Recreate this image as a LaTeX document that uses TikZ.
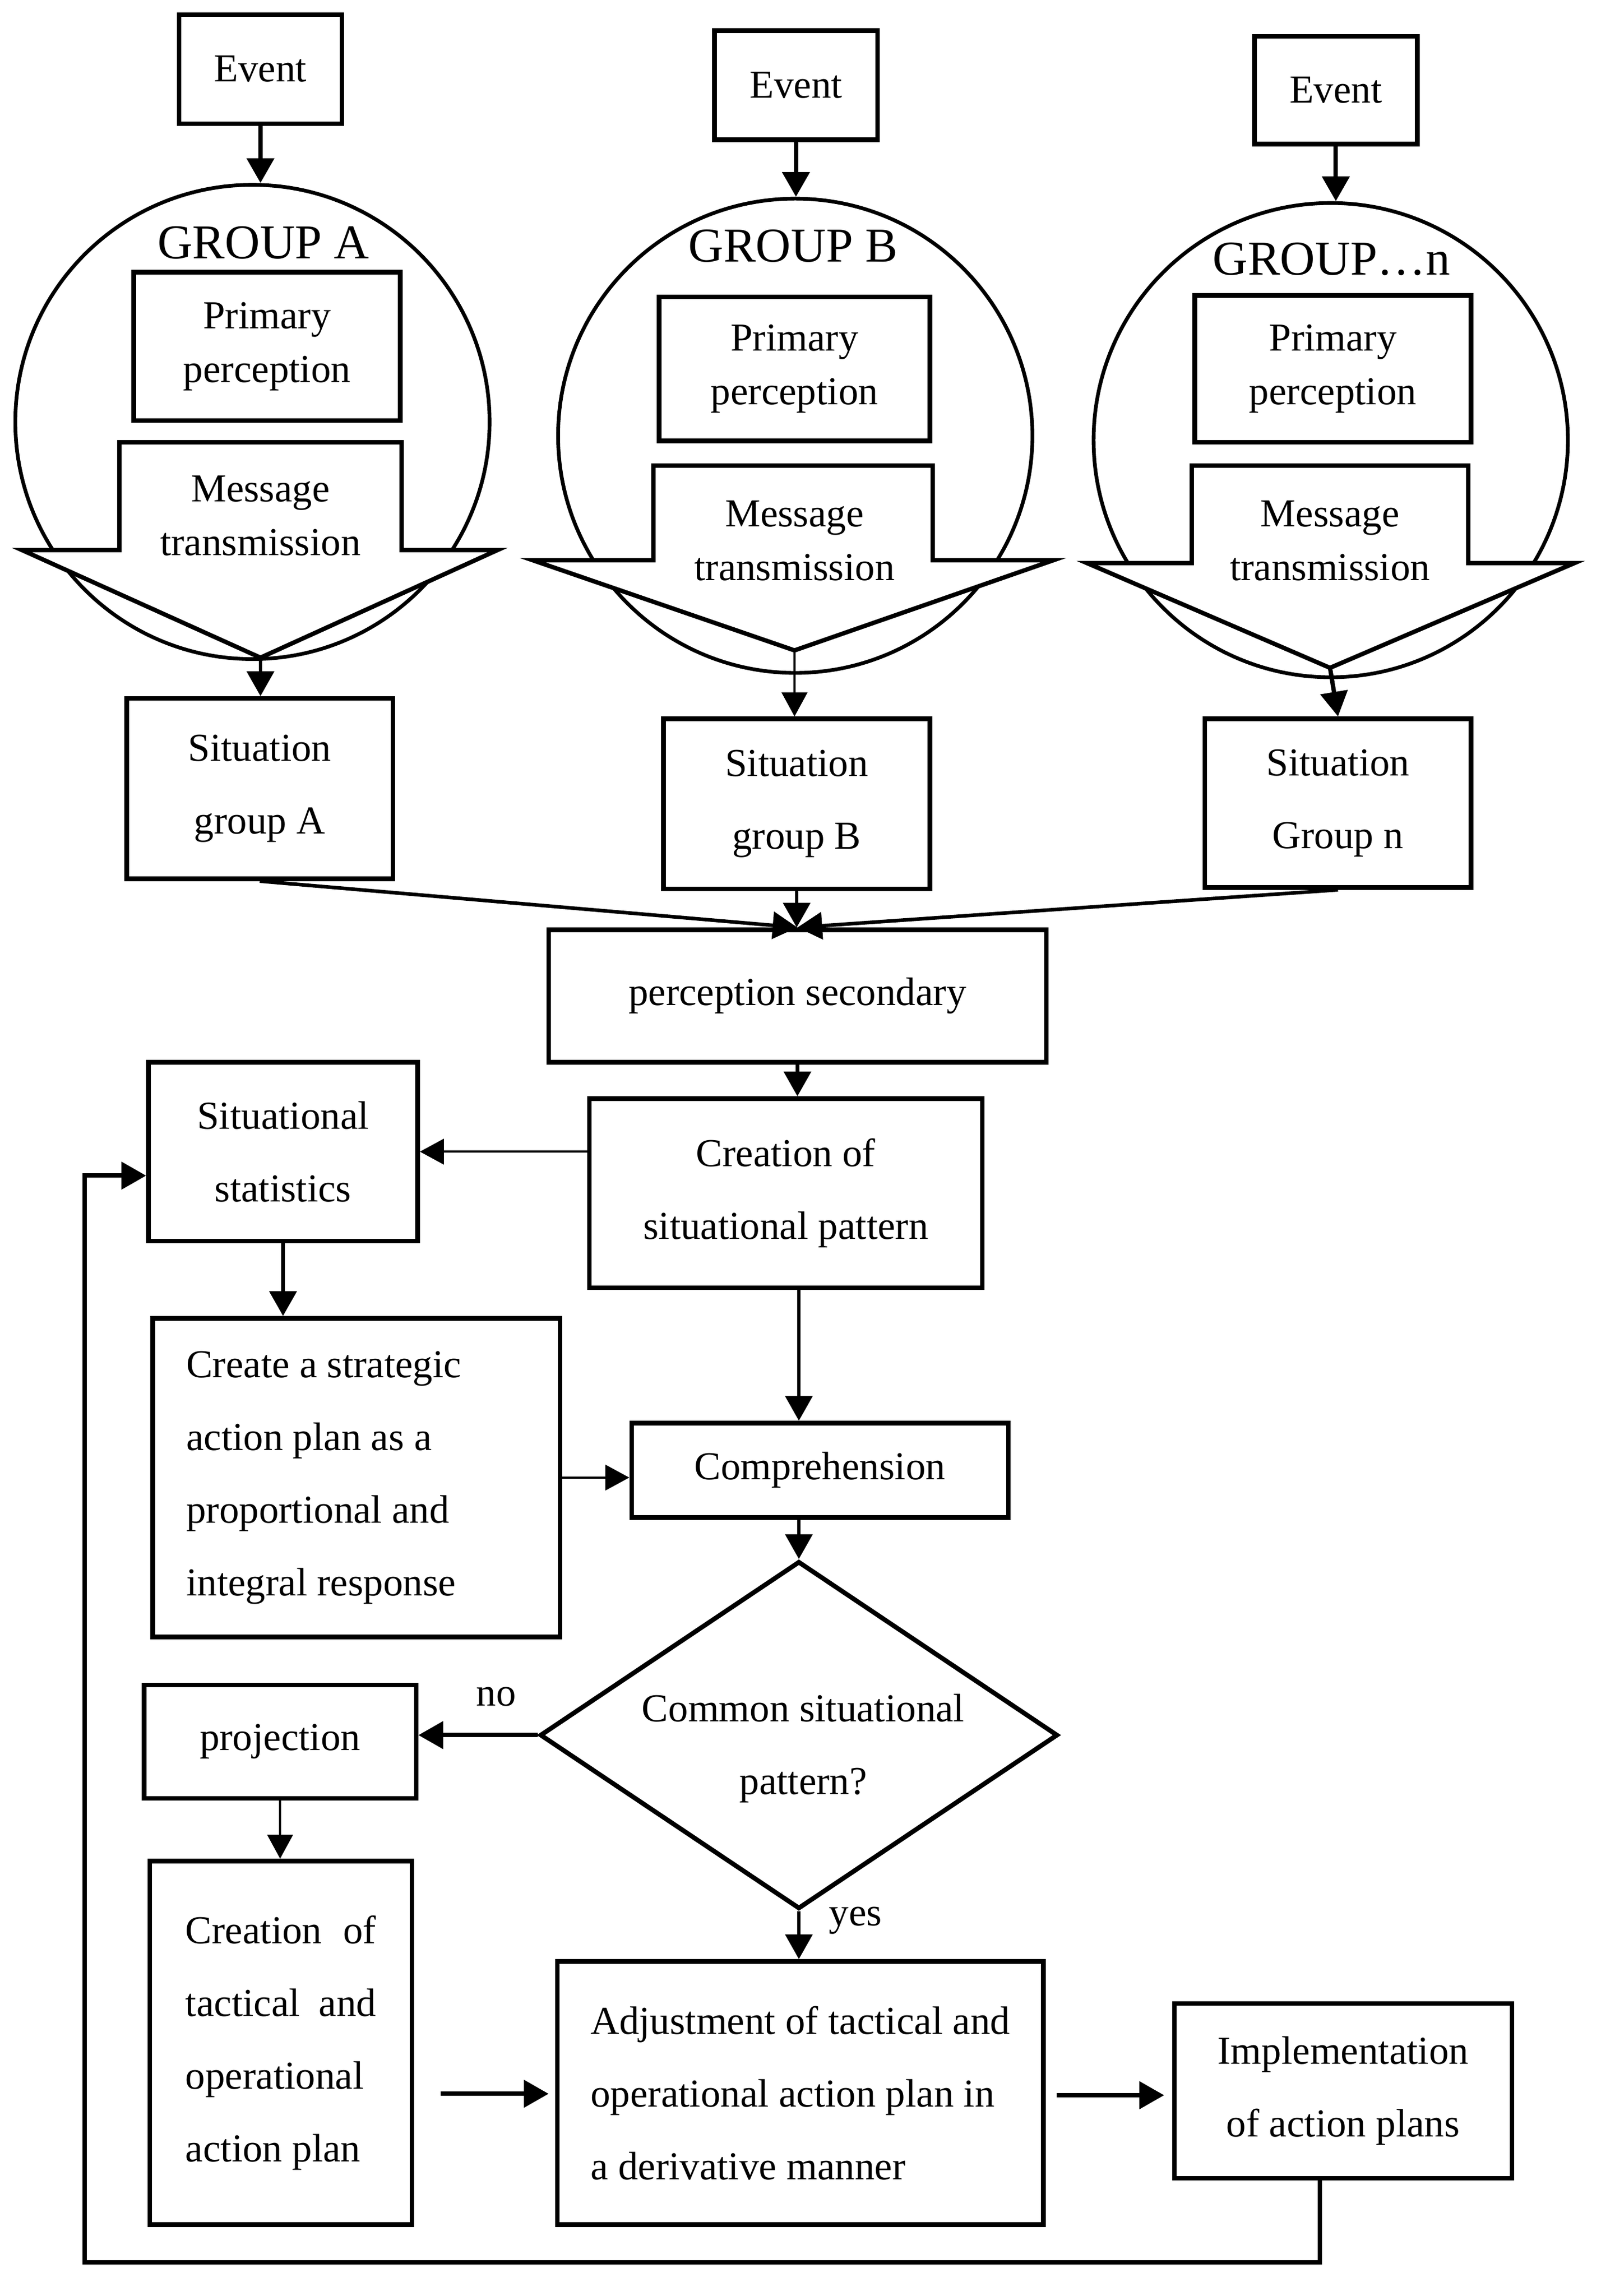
\documentclass[tikz,border=0pt]{standalone}
\usepackage{fontspec}
\setmainfont{Liberation Serif}
\usetikzlibrary{arrows.meta,shapes.geometric}
\begin{document}
\begin{tikzpicture}[x=0.02cm,y=-0.02cm,
  box/.style={draw,line width=1.8pt,inner sep=0pt,align=center,font=\fontsize{15.5}{28.45}\selectfont},
  tbox/.style={box,font=\fontsize{15.5}{21}\selectfont},
  grp/.style={draw,circle,line width=1.45pt,inner sep=0pt,minimum size=6.52cm},
  glab/.style={font=\fontsize{19}{20}\selectfont,inner sep=0pt},
  msg/.style={draw,line width=1.7pt,fill=white,line join=miter},
  mtext/.style={align=center,font=\fontsize{15.5}{21}\selectfont,inner sep=0pt},
  lab/.style={font=\fontsize{15.5}{17}\selectfont,inner sep=0pt},
  arr/.style={-{Triangle[length=0.34cm,width=0.37cm]},line width=1.4pt},
  bigarr/.style={-{Triangle[length=0.34cm,width=0.37cm]},line width=1.7pt},
  smallarr/.style={-{Triangle[length=0.33cm,width=0.35cm]},line width=0.85pt},
]
\fill[white] (0,0) rectangle (1100,1578);
\useasboundingbox (0,0) rectangle (1100,1578);

% events
\node[box,minimum width=2.24cm,minimum height=1.5cm] (evA) at (179,47.5) {Event};
\node[box,minimum width=2.24cm,minimum height=1.5cm] (evB) at (547,58.5) {Event};
\node[box,minimum width=2.24cm,minimum height=1.48cm] (evN) at (918,62) {Event};

% group circles
\node[grp] (cA) at (173.5,290) {};
\node[grp] (cB) at (546.5,299.5) {};
\node[grp] (cN) at (914.5,302.5) {};
\node[glab] (gA) at (181,167) {GROUP A};
\node[glab] (gB) at (545,169) {GROUP B};
\node[glab] (gN) at (915,178) {GROUP…n};

% primary perception
\node[tbox,minimum width=3.66cm,minimum height=2.04cm] (pA) at (183.5,238) {Primary\\perception};
\node[tbox,minimum width=3.72cm,minimum height=1.98cm] (pB) at (546,253.5) {Primary\\perception};
\node[tbox,minimum width=3.8cm,minimum height=2.02cm] (pN) at (916,253.5) {Primary\\perception};

% message transmission arrows
\draw[msg] (82,304) -- (276,304) -- (276,378) -- (342,378) -- (179,452) coordinate (mAt) -- (15,378) -- (82,378) -- cycle;
\node[mtext] (mAx) at (179,354.5) {Message\\transmission};
\draw[msg] (449,320) -- (641,320) -- (641,385) -- (724,385) -- (546,447) coordinate (mBt) -- (366,385) -- (449,385) -- cycle;
\node[mtext] (mBx) at (546,371.5) {Message\\transmission};
\draw[msg] (819,320) -- (1009,320) -- (1009,387) -- (1082,387) -- (914,459) coordinate (mNt) -- (747,387) -- (819,387) -- cycle;
\node[mtext] (mNx) at (914,371.5) {Message\\transmission};

% situation boxes
\node[box,minimum width=3.66cm,minimum height=2.48cm] (sA) at (178.5,542) {Situation\\group A};
\node[box,minimum width=3.66cm,minimum height=2.34cm] (sB) at (547.5,552.5) {Situation\\group B};
\node[box,minimum width=3.66cm,minimum height=2.32cm] (sN) at (919.5,552) {Situation\\Group n};

% middle
\node[box,minimum width=6.84cm,minimum height=1.82cm] (ps) at (548,684.5) {perception secondary};
\node[box,minimum width=3.7cm,minimum height=2.46cm] (ss) at (194.5,791.5) {Situational\\statistics};
\node[box,minimum width=5.4cm,minimum height=2.6cm] (cp) at (540,820) {Creation of\\situational pattern};
\node[box,align=flush left,text width=4.68cm,inner xsep=0.46cm,minimum height=4.38cm] (cs) at (245,1015.5) {Create a strategic\\action plan as a\\proportional and\\integral response};
\node[box,minimum width=5.18cm,minimum height=1.3cm] (co) at (563.5,1010.5) {Comprehension};

% decision
\node[draw,diamond,line width=1.8pt,inner sep=0pt,shape aspect=1.49,minimum width=7.12cm,minimum height=4.78cm] (dm) at (549,1192.5) {};
\node[mtext,font=\fontsize{15.5}{28.45}\selectfont] (dmx) at (552,1201.5) {Common situational\\pattern?};

% bottom
\node[box,minimum width=3.74cm,minimum height=1.56cm] (pr) at (192.5,1197) {projection};
\node[box,align=flush left,text width=2.62cm,inner xsep=0.49cm,minimum height=5cm] (ct) at (193,1404) {Creation\hfill of\\tactical\hfill and\\operational\\action plan};
\node[box,align=left,minimum width=6.68cm,minimum height=3.62cm] (ad) at (550,1438.5) {Adjustment of tactical and\\operational action plan in\\a derivative manner};
\node[box,minimum width=4.64cm,minimum height=2.4cm] (im) at (923,1437) {Implementation\\of action plans};

\node[lab] (no) at (341,1166) {no};
\node[lab] (yes) at (588,1320) {yes};

% connectors
\draw[bigarr] (evA.south) -- (evA.south |- cA.north);
\draw[bigarr] (evB.south) -- (evB.south |- cB.north);
\draw[bigarr] (evN.south) -- (evN.south |- cN.north);
\draw[arr] (mAt) -- (mAt |- sA.north);
\draw[smallarr] (mBt) -- (mBt |- sB.north);
\draw[bigarr] (mNt) -- (sN.north);
\draw[arr] (sA.south) -- (ps.north);
\draw[arr] (sB.south) -- (sB.south |- ps.north);
\draw[arr] (sN.south) -- (ps.north);
\draw[arr] (ps.south) -- (ps.south |- cp.north);
\draw[smallarr] (cp.west |- ss.east) -- (ss.east);
\draw[arr] (ss.south) -- (ss.south |- cs.north);
\draw[smallarr] (cs.east) -- (cs.east -| co.west);
\draw[arr] (cp.south -| dm.north) -- (co.north -| dm.north);
\draw[arr] (co.south -| dm.north) -- (dm.north);
\draw[bigarr] (dm.west) -- (dm.west -| pr.east);
\draw[smallarr] (pr.south) -- (pr.south |- ct.north);
\draw[arr] (dm.south) -- (dm.south |- ad.north);
\coordinate (f1s) at (303,1439);
\coordinate (f1e) at (377,1439);
\coordinate (f2s) at (726,1440);
\coordinate (f2e) at (800,1440);
\draw[bigarr] (f1s) -- (f1e);
\draw[bigarr] (f2s) -- (f2e);
\coordinate (fbL) at (58,1555);
\draw[bigarr] ([xshift=-0.32cm]im.south) |- (fbL) |- ([yshift=-0.33cm]ss.west);
\end{tikzpicture}
\end{document}
